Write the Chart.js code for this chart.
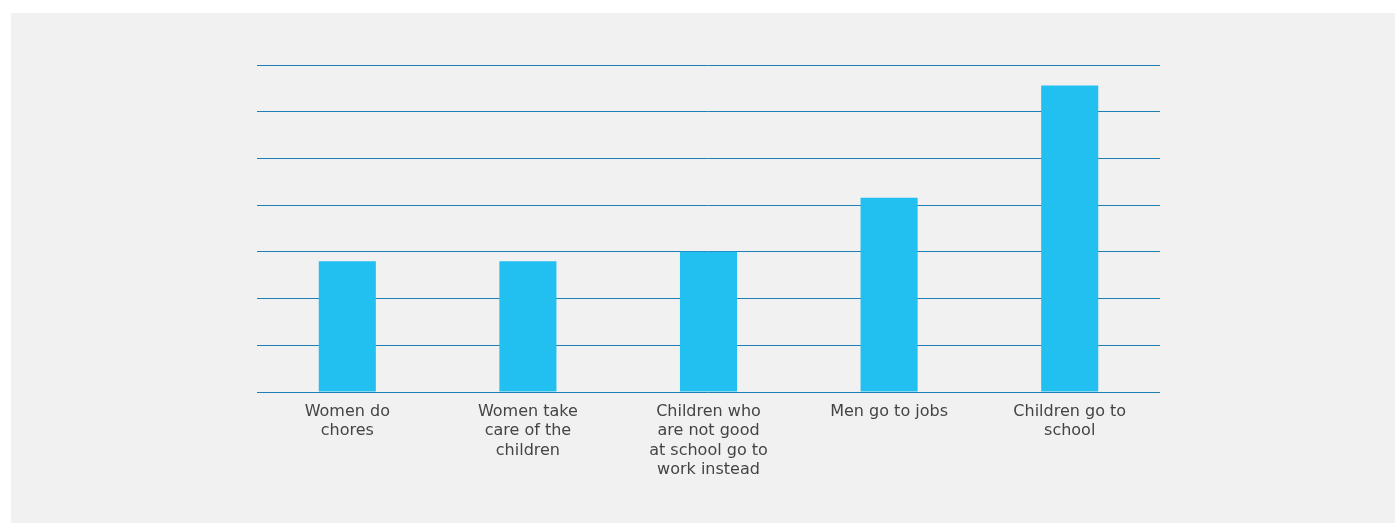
<!DOCTYPE html>
<html lang="en">
<head>
    <meta charset="UTF-8">
    <title>Who does what</title>
    <script src="https://cdn.jsdelivr.net/npm/chart.js"></script>
    <style>
        html, body {
            margin: 0;
            padding: 0;
            background: #ffffff;
        }

        .panel {
            position: absolute;
            left: 11px;
            top: 13px;
            width: 1384px;
            height: 510px;
            background-color: #f1f1f1;
        }

        canvas {
            display: block;
        }
    </style>
</head>
<body>
    <div class="panel">
        <canvas id="roleChart" width="1384" height="510"></canvas>
    </div>

    <script>
        // Categories (wrapped labels) and values
        const categories = [
            ['Women do', 'chores'],
            ['Women take', 'care of the', 'children'],
            ['Children who', 'are not good', 'at school go to', 'work instead'],
            ['Men go to jobs'],
            ['Children go to', 'school']
        ];
        const values = [14, 14, 15, 20.8, 32.8];
        const yTicks = [0, 5, 10, 15, 20, 25, 30, 35];

        const barColor = '#22bff1';
        const gridColor = '#1f7fb4';

        const ctx = document.getElementById('roleChart').getContext('2d');
        const chart = new Chart(ctx, {
            type: 'bar',
            data: {
                labels: categories,
                datasets: [{
                    data: values,
                    backgroundColor: barColor,
                    borderWidth: 0,
                    categoryPercentage: 1,
                    barPercentage: 0.316
                }]
            },
            options: {
                responsive: false,
                animation: false,
                layout: {
                    padding: { left: 246, right: 235, top: 52, bottom: 0 }
                },
                scales: {
                    x: {
                        grid: { display: false, drawTicks: false },
                        border: { display: false },
                        ticks: {
                            color: '#444444',
                            padding: 10,
                            maxRotation: 0,
                            autoSkip: false,
                            font: { family: 'DejaVu Sans', size: 16, lineHeight: 1.21 }
                        },
                        afterFit: (scale) => { scale.height = 131; }
                    },
                    y: {
                        min: yTicks[0],
                        max: yTicks[yTicks.length - 1],
                        ticks: { display: false, stepSize: yTicks[1] - yTicks[0] },
                        grid: { color: gridColor, lineWidth: 1, drawTicks: false },
                        border: { display: false },
                        afterFit: (scale) => { scale.width = 0; }
                    }
                },
                plugins: {
                    legend: { display: false },
                    tooltip: { enabled: false }
                }
            }
        });
    </script>
</body>
</html>
